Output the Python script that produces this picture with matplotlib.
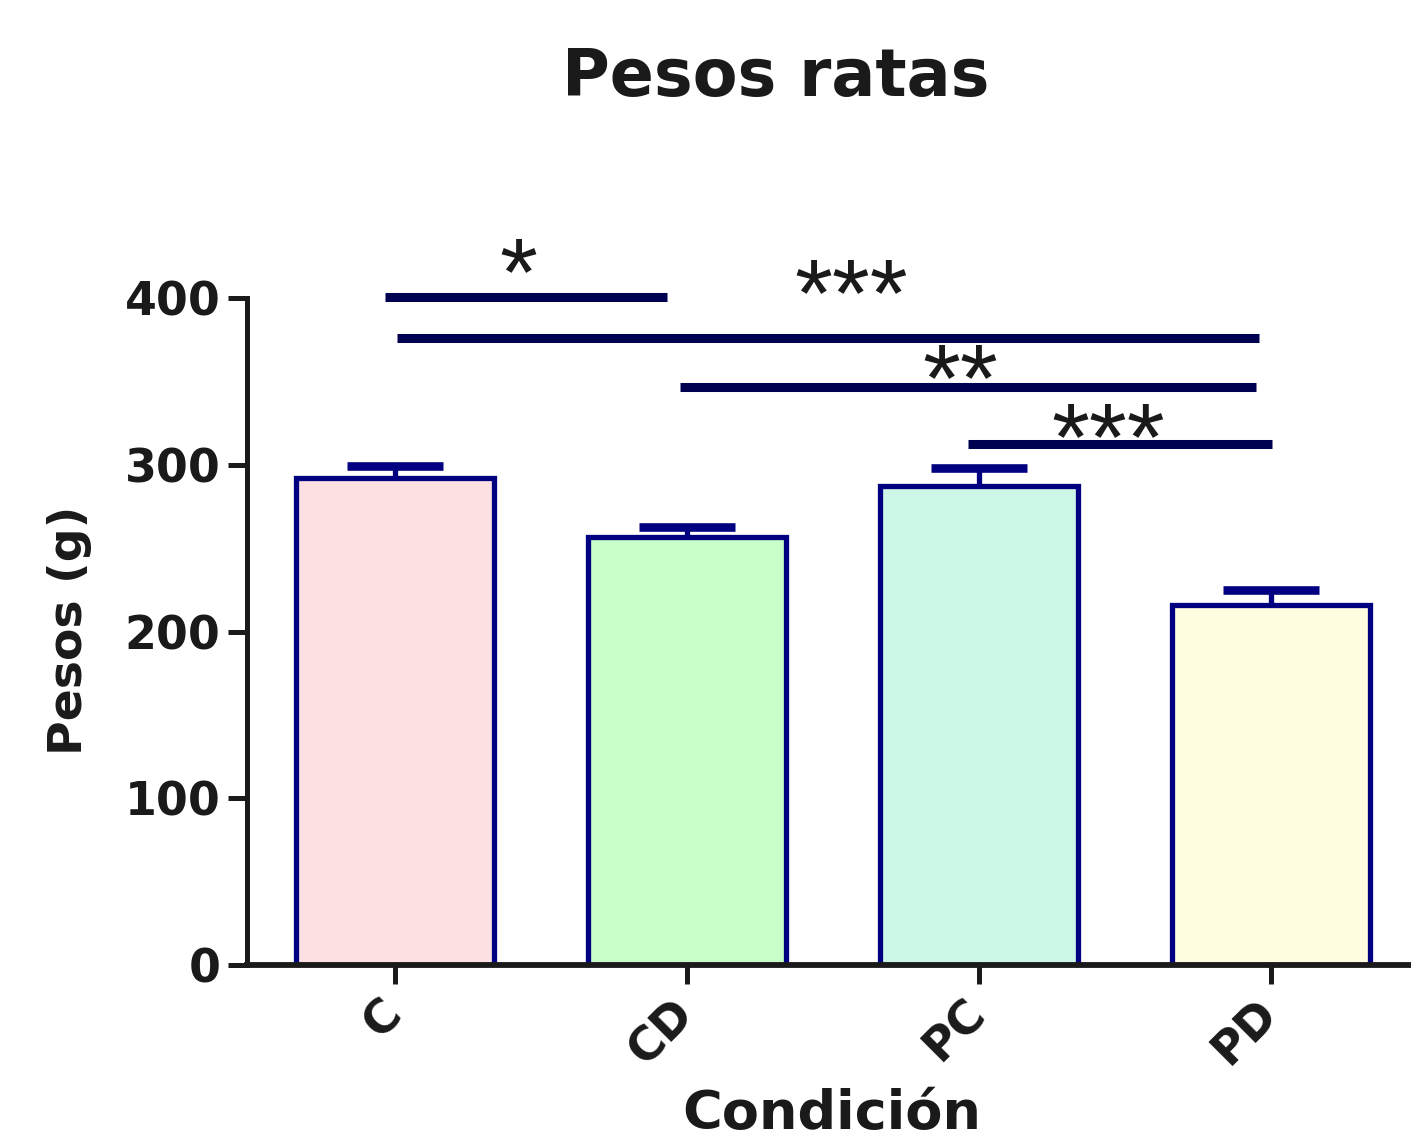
import numpy as np
import matplotlib.pyplot as plt

plt.rcParams['font.family'] = ['DejaVu Sans']
plt.rcParams['font.weight'] = 'bold'

# Datos
grupos = ['C', 'CD', 'PC', 'PD']
medias = [292, 256.5, 287, 216]
sem = [7, 6, 11, 9]
colores = ['#fde0e2', '#c8ffc8', '#ccf6e6', '#fffde0']

# Comparaciones (lineas de significancia y estrellas)
lin_x0 = [-0.034, 0.007, 0.976, 1.962]
lin_x1 = [0.932, 2.959, 2.949, 3.003]
lin_y = [400.6, 376, 346.6, 312.4]
estrellas = ['*', '***', '**', '***']
est_x = [0.421, 1.562, 1.935, 2.442]
est_y = [411, 398, 347, 312]

fig = plt.figure(figsize=(14.11, 11.43), dpi=100)
ax = fig.add_axes([0.175, 0.1557, 0.825, 0.5836])

x = np.arange(len(grupos))
arriba = np.array(medias) + np.array(sem)
ax.vlines(x, medias, arriba, color='#000080', linewidth=3.8, zorder=1)
ax.hlines(arriba, x - 0.165, x + 0.165, color='#000080', linewidth=6.2, zorder=1)
ax.bar(x, medias, width=0.68, color=colores, edgecolor='#000080', linewidth=3.8, zorder=2)

for a, b, h in zip(lin_x0, lin_x1, lin_y):
    ax.plot([a, b], [h, h], color='#000050', linewidth=6.5, clip_on=False,
            solid_capstyle='butt')
for t, xs, ys in zip(estrellas, est_x, est_y):
    ax.text(xs, ys, t, ha='center', va='center', fontsize=70, fontweight='normal',
            family='Liberation Sans', color='#1a1a1a')

ax.set_xlim(-0.507, 3.48)
ax.set_ylim(0, 400)
ax.set_yticks([0, 100, 200, 300, 400])
ax.set_xticks(x)
ax.set_xticklabels(grupos, rotation=45, ha='right', va='center', rotation_mode='anchor')

for s in ['top', 'right']:
    ax.spines[s].set_visible(False)
ax.spines['left'].set_linewidth(3.6)
ax.spines['bottom'].set_linewidth(4.2)
ax.spines['left'].set_color('#1a1a1a')
ax.spines['bottom'].set_color('#1a1a1a')
ax.tick_params(axis='both', colors='#1a1a1a', width=3.6, length=14, labelsize=33, pad=5)
ax.tick_params(axis='x', pad=16)

fig.text(0.55, 0.932, 'Pesos ratas', ha='center', va='center', fontsize=47,
         fontweight='bold', color='#1a1a1a')
fig.text(70 / 1411, 1 - 630 / 1143, 'Pesos (g)', rotation=90, ha='center', va='center',
         fontsize=34, fontweight='bold', color='#1a1a1a')
fig.text(832 / 1411, 1 - 1088 / 1143, 'Condición', ha='center', va='top',
         fontsize=39, fontweight='bold', color='#1a1a1a')

fig.savefig('out.png', dpi=100)
